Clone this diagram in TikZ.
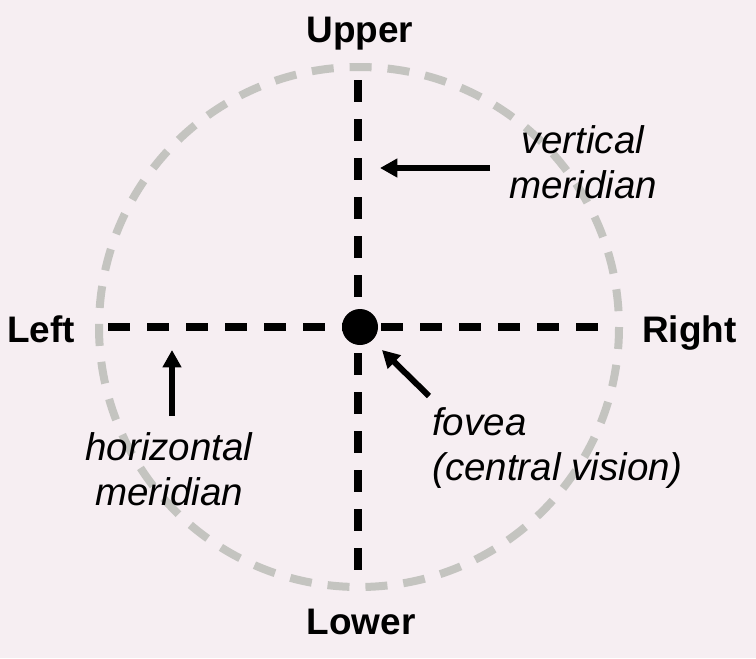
\documentclass[tikz,border=0pt]{standalone}
\usepackage{fontspec}
\setmainfont{Liberation Sans}
\usetikzlibrary{arrows.meta}
\definecolor{bgpink}{RGB}{246,238,242}
\definecolor{ringgray}{RGB}{196,196,192}

\begin{document}
\begin{tikzpicture}[x=0.75pt,y=-0.75pt,>={Triangle[length=13pt,width=13.5pt]},
 side/.style={font=\bfseries\fontsize{27.7}{33}\selectfont,anchor=base,inner sep=0pt},
 note/.style={font=\itshape\fontsize{28.9}{33.75}\selectfont,inner sep=0pt},
 meridian/.style={line width=6pt,dash pattern=on 16.5pt off 12.75pt},
 pointer/.style={->,line width=4.5pt}]
\fill[bgpink] (0,0) rectangle (756,658);
\useasboundingbox (0,0) rectangle (756,658);
\draw[ringgray,line width=6pt,dash pattern=on 16.5pt off 12pt] (359,327) circle (260);
\coordinate (vtop) at (358,80);
\coordinate (vbot) at (358,578);
\coordinate (hleft) at (108,327);
\coordinate (hright) at (614,327);
\draw[meridian] (vtop)--(vbot);
\draw[meridian] (hleft)--(hright);
\node[fill=black,circle,minimum size=27pt,inner sep=0pt] (fovea) at (360,327) {};
\node[side] (upper) at (360,42) {Upper};
\node[side] (lower) at (361,634) {Lower};
\node[side,anchor=base west] (left) at (7,342) {Left};
\node[side,anchor=base west] (right) at (642,342) {Right};
\node[note,align=center,anchor=base] (vm) at (583,198) {vertical\\meridian};
\node[note,align=center,anchor=base] (hm) at (169,505) {horizontal\\meridian};
\node[note,align=left,anchor=base west] (fv) at (432,480) {fovea\\(central vision)};
\coordinate (vtail) at (490,168);
\coordinate (vtip) at (380,168);
\coordinate (htail) at (172,416);
\coordinate (htip) at (172,350);
\coordinate (ftail) at (429,396);
\coordinate (ftip) at (382,350);
\draw[pointer] (vtail)--(vtip);
\draw[pointer] (htail)--(htip);
\draw[pointer] (ftail)--(ftip);
\end{tikzpicture}
\end{document}
